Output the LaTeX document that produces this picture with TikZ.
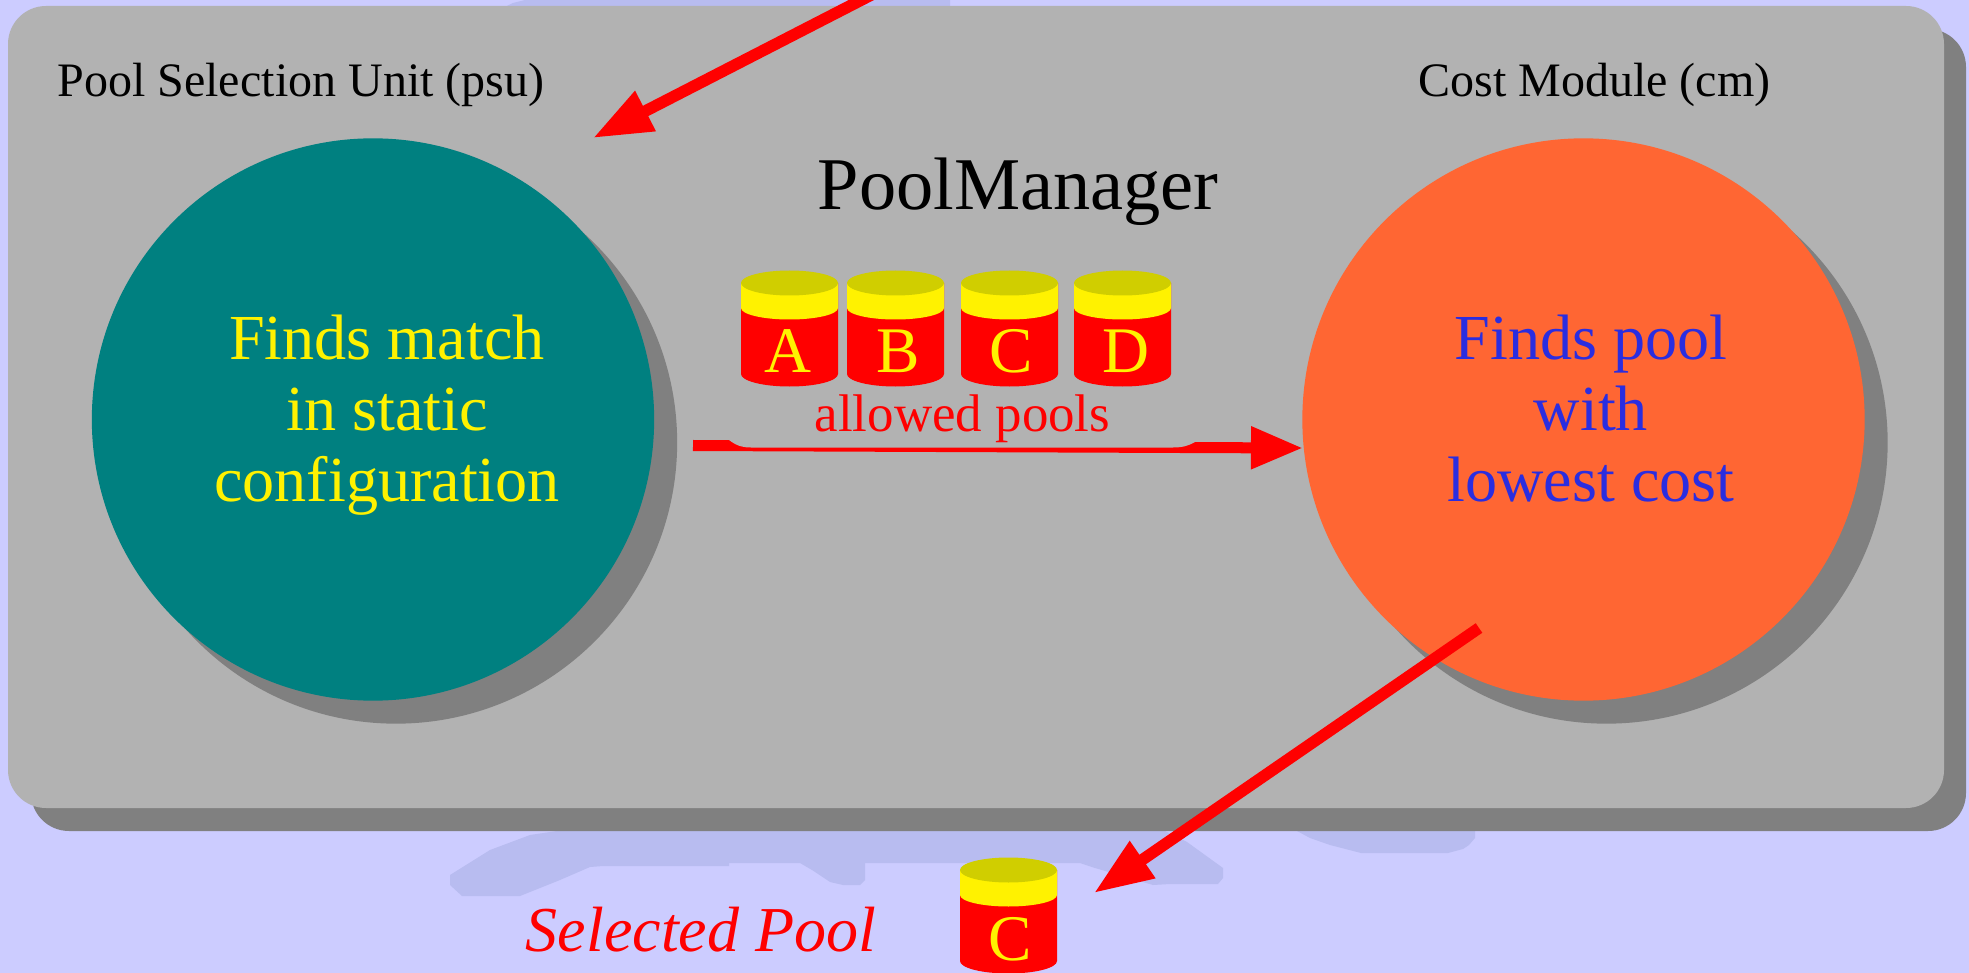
\documentclass[tikz,border=0pt]{standalone}
\usepackage{fontspec}
\setmainfont{Liberation Serif}
\usepackage{xcolor}
\usetikzlibrary{arrows.meta}
\definecolor{bgblue}{HTML}{CCCCFF}
\definecolor{blobblue}{HTML}{B8BCF0}
\definecolor{panelgray}{HTML}{B2B2B2}
\definecolor{shadowgray}{HTML}{808080}
\definecolor{psuteal}{HTML}{008080}
\definecolor{cmorange}{HTML}{FF6633}
\definecolor{cmblue}{HTML}{2A2DE0}
\definecolor{lidolive}{HTML}{D0CE00}
\tikzset{
	blob/.style={fill=blobblue},
	bigcircle/.style={circle,minimum size=5.62cm,inner sep=0pt},
	redarrow/.style={draw=red,line width=3.3pt,-{Triangle[length=16.8pt,width=12pt]}},
	unitlabel/.style={anchor=base,inner sep=0pt,font=\fontsize{13.66}{16}\selectfont},
	circletext/.style={anchor=base,inner sep=0pt,align=center,font=\fontsize{18.25}{20.06}\selectfont},
	pics/poolcyl/.style 2 args={code={
		\fill[red] (-48.5,0) -- (-48.5,91) arc[start angle=180,end angle=0,x radius=48.5,y radius=12.5] -- (48.5,0) -- cycle;
		\fill[yellow] (-48.5,0) -- (-48.5,25) arc[start angle=180,end angle=0,x radius=48.5,y radius=11.5] -- (48.5,0) -- cycle;
		\fill[lidolive] (0,0) ellipse [x radius=48.5,y radius=12.5];
		\node[anchor=base,inner sep=0pt,text=yellow,font=\fontsize{18.5}{20}\selectfont] (-letter) at (#2,90) {#1};
	}}
}
\begin{document}
\begin{tikzpicture}[x=0.01cm,y=-0.01cm]
	\clip (0,0) rectangle (1969,973);
	\fill[bgblue] (0,0) rectangle (1969,973);
	\fill[blob] (507,6) -- (513,3) -- (525,0) -- (950,0) -- (950,6) -- cycle;
	\fill[blob] (557,831) -- (530,835) -- (490,850) -- (450,875) -- (450,885) -- (462,896) -- (520,896) -- (560,880) -- (590,867) -- (603,866) -- (729,866) -- (729,863) -- (800,863) -- (812,870) -- (830,882) -- (843,885) -- (860,885) -- (865,880) -- (865,863) -- (1080,863) -- (1095,868) -- (1153,885) -- (1170,884) -- (1218,884) -- (1223,878) -- (1223,868) -- (1205,855) -- (1187,842) -- (1165,831) -- cycle;
	\fill[blob] (1297,831) -- (1310,838) -- (1330,845) -- (1361,853) -- (1448,853) -- (1463,849) -- (1469,845) -- (1475,838) -- (1475,831) -- cycle;
	\fill[shadowgray,rounded corners=0.38cm] (31,29) rectangle (1966,831);
	\fill[panelgray,rounded corners=0.38cm] (8,6) rectangle (1944,808);
	\fill[shadowgray] (396,442.5) circle[radius=2.81cm];
	\fill[shadowgray] (1606.5,442.5) circle[radius=2.81cm];
	\node[bigcircle,fill=psuteal] (psu) at (373,419.5) {};
	\node[bigcircle,fill=cmorange] (cm) at (1583.5,419.5) {};
	\node[unitlabel] (psulabel) at (301,97) {Pool Selection Unit (psu)};
	\node[unitlabel] (cmlabel) at (1594.5,97) {Cost Module (cm)};
	\node[anchor=base,inner sep=0pt,font=\fontsize{21.15}{24}\selectfont] (manager) at (1018,210) {PoolManager};
	\node[circletext,text=yellow] (psutext) at (387,501) {Finds match\\in static\\configuration};
	\node[circletext,text=cmblue] (cmtext) at (1591,501) {Finds pool\\with\\lowest cost};
	\coordinate (psuout) at (693,445.5);
	\coordinate (cmin) at (1303,448);
	\draw[draw=red,line width=3.13pt,-{Triangle[length=14.8pt,width=11.4pt]}] (psuout) -- (cmin);
	\fill[panelgray] (729,425) -- (729,440) .. controls (738,447) and (745,447.5) .. (751,447.5) -- (1173,447.5) .. controls (1182,447.5) and (1188,446) .. (1195,442) -- (1195,425) -- cycle;
	\pic at (789.5,283) {poolcyl={A}{-2}};
	\pic at (895.5,283) {poolcyl={B}{3}};
	\pic at (1009.5,283) {poolcyl={C}{2}};
	\pic at (1122.5,283) {poolcyl={D}{3}};
	\node[anchor=base,inner sep=0pt,text=red,font=\fontsize{15.05}{18}\selectfont] (allowed) at (962.5,431) {allowed pools};
	\coordinate (topstart) at (875,-7);
	\coordinate (toptip) at (593,138);
	\draw[redarrow] (topstart) -- (toptip);
	\coordinate (cmout) at (1479,628);
	\coordinate (selecttip) at (1094,893);
	\draw[redarrow] (cmout) -- (selecttip);
	\pic at (1008.5,870) {poolcyl={C}{2}};
	\node[anchor=base,inner sep=0pt,text=red,font=\fontsize{18.2}{20}\selectfont\itshape] (selected) at (701,951) {Selected Pool};
\end{tikzpicture}
\end{document}
